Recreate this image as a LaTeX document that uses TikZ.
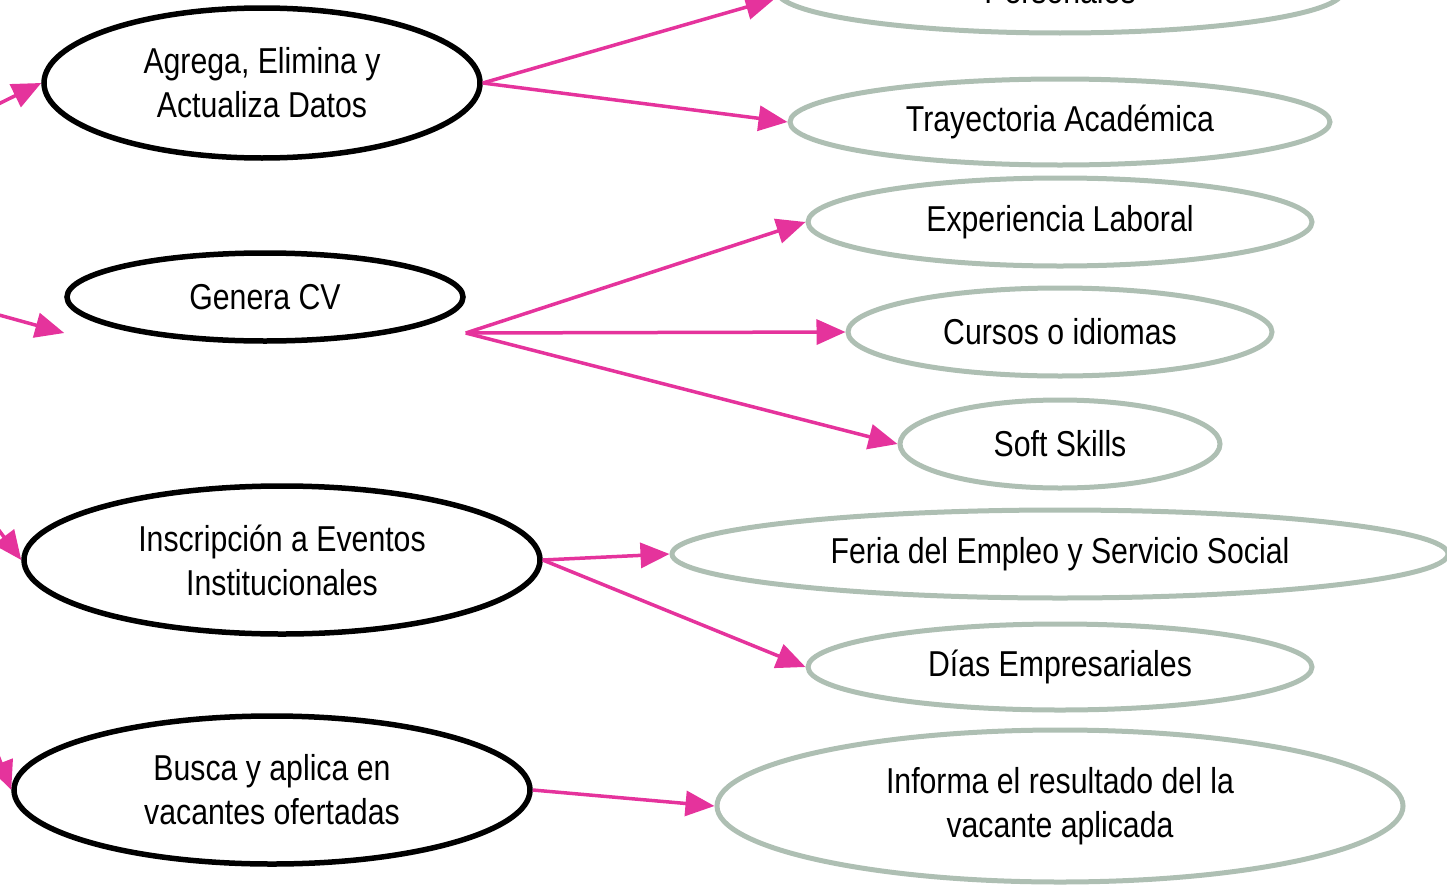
\documentclass[tikz,border=0pt]{standalone}
\usepackage{fontspec}
\setmainfont{Liberation Sans}[FakeStretch=0.84]
\usetikzlibrary{shapes.geometric,arrows.meta}
\definecolor{flowpink}{HTML}{E5339C}
\definecolor{sage}{HTML}{AEBFB3}
\tikzset{
  task/.style={ellipse,draw=black,line width=5.5pt,inner sep=0pt,align=center,
    font=\fontsize{36}{44}\selectfont},
  detail/.style={ellipse,draw=sage,line width=5pt,inner sep=0pt,align=center,
    font=\fontsize{36}{44}\selectfont},
  flow/.style={draw=flowpink,line width=3.5pt,-{Triangle[length=29pt,width=25pt]}}
}

\begin{document}
\begin{tikzpicture}[x=1pt,y=-1pt]
    \useasboundingbox (0,0) rectangle (1447,886);
    \clip (0,0) rectangle (1447,886);
    % left column
    \node[task,minimum width=436pt,minimum height=150pt] (agr) at (262,83) {Agrega, Elimina y\\Actualiza Datos};
    \node[task,minimum width=396pt,minimum height=88pt] (gen) at (265,297) {Genera CV};
    \node[task,minimum width=516pt,minimum height=148pt] (ins) at (282,560) {Inscripción a Eventos\\Institucionales};
    \node[task,minimum width=516pt,minimum height=148pt] (bus) at (272,790) {Busca y aplica en\\vacantes ofertadas};
    % right column
    \node[detail,minimum width=566pt,minimum height=84pt] (per) at (1060,-9) {Personales};
    \node[detail,minimum width=540pt,minimum height=86pt] (tra) at (1060,122) {Trayectoria Académica};
    \node[detail,minimum width=504pt,minimum height=88pt] (exp) at (1060,222) {Experiencia Laboral};
    \node[detail,minimum width=424pt,minimum height=88pt] (cur) at (1060,332) {Cursos o idiomas};
    \node[detail,minimum width=320pt,minimum height=88pt] (sof) at (1060,444) {Soft Skills};
    \node[detail,minimum width=776pt,minimum height=88pt] (fer) at (1060,554) {Feria del Empleo y Servicio Social};
    \node[detail,minimum width=504pt,minimum height=86pt] (dia) at (1060,667) {Días Empresariales};
    \node[detail,minimum width=686pt,minimum height=152pt] (inf) at (1060,806) {Informa el resultado del la\\vacante aplicada};
    % incoming ends, off the page
    \coordinate (srcA) at (-200,201);
    \coordinate (srcG) at (-200,260);
    \coordinate (srcI) at (-159,320);
    \coordinate (srcB) at (-96,511);
    \coordinate (genL) at ([yshift=-36pt]gen.west);
    \coordinate (genR) at ([yshift=-36pt]gen.east);
    \coordinate (perL) at ([yshift=-8pt]per.west);
    \draw[flow] (srcA) -- (agr.west);
    \draw[flow] (srcG) -- (genL);
    \draw[flow] (srcI) -- (ins.west);
    \draw[flow] (srcB) -- (bus.west);
    \draw[flow] (agr.east) -- (perL);
    \draw[flow] (agr.east) -- (tra.west);
    \draw[flow] (genR) -- (exp.west);
    \draw[flow] (genR) -- (cur.west);
    \draw[flow] (genR) -- (sof.west);
    \draw[flow] (ins.east) -- (fer.west);
    \draw[flow] (ins.east) -- (dia.west);
    \draw[flow] (bus.east) -- (inf.west);
\end{tikzpicture}
\end{document}
